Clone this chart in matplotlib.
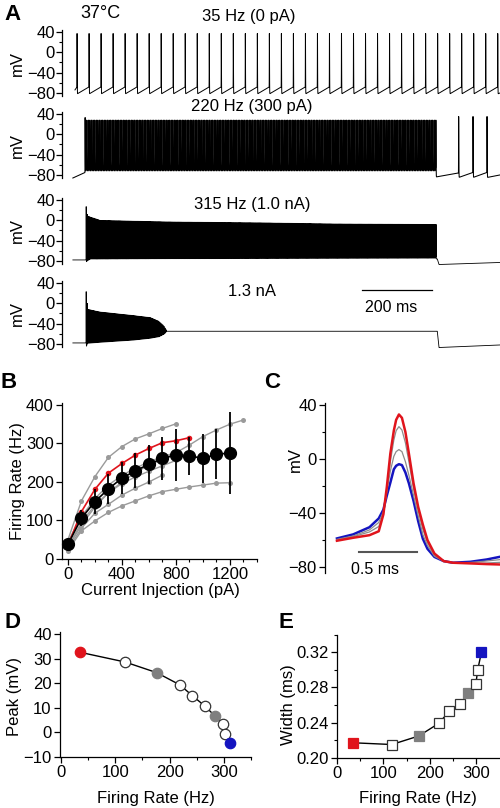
import numpy as np
import matplotlib
matplotlib.use('Agg')
import matplotlib.pyplot as plt
from matplotlib.ticker import MultipleLocator, FormatStrFormatter

plt.rcParams['font.family'] = ['Liberation Sans', 'DejaVu Sans']
plt.rcParams['font.size'] = 12
plt.rcParams['axes.linewidth'] = 0.9
plt.rcParams['xtick.major.width'] = 0.9
plt.rcParams['ytick.major.width'] = 0.9
plt.rcParams['xtick.minor.width'] = 0.8
plt.rcParams['ytick.minor.width'] = 0.8
plt.rcParams['path.simplify'] = False

W, H = 500, 808

# ---------------- panel A: voltage traces (ms, mV)
t_end = 1250.0
dt = 0.05

# trace 1, 0 pA, spontaneous
a1_first, a1_isi, a1_n = 43.0, 34.3, 36
a1_peak, a1_trough, a1_thresh = 37.0, -82.0, -68.0
a1_pre_t, a1_pre_v = [37, 43], [-74, -68]

# trace 2, 300 pA
a2_first, a2_isi, a2_n = 66.0, 4.55, 221
a2_peak_first, a2_peak, a2_trough, a2_thresh = 33.0, 28.0, -77.0, -64.0
a2_after_spk = [1132.0, 1173.0, 1213.0]
a2_after_peak, a2_after_trough, a2_after_thresh = 35.0, -85.0, -75.0
a2_pre_t, a2_pre_v = [31, 66], [-86, -75]
a2_post_t, a2_post_v = [1213, 1250], [-85, -80]

# trace 3, 1.0 nA
a3_first, a3_isi, a3_n = 69.0, 3.17, 316
a3_pk_t = [69, 72, 75, 109, 299, 585, 775, 1061]
a3_pk_v = [27, 12, 8, 0, -3, -5, -7, -8]
a3_tr_t = [69, 80, 300, 1068]
a3_tr_v = [-84, -78, -77, -76]
a3_th_v = [-74, -72, -72, -71]
a3_pre_t, a3_pre_v = [31, 69], [-78, -78]
a3_post_t, a3_post_v = [1068, 1071, 1076, 1250], [-76, -76, -87, -83]

# trace 4, 1.3 nA
a4_first, a4_isi, a4_n = 69.0, 3.0, 77
a4_pk_t = [69, 72, 75, 109, 204, 252, 276, 290, 297]
a4_pk_v = [23, 0, -12, -17, -24, -28, -35, -44, -52]
a4_tr_t = [69, 72, 109, 204, 252, 276, 290, 297]
a4_tr_v = [-86, -80, -78, -73.5, -70, -67, -62, -57]
a4_th_v = [-80, -76, -74, -70, -66, -63, -58, -55]
a4_pre_t, a4_pre_v = [31, 69], [-78, -78]
a4_post_t, a4_post_v = [297, 1071, 1076, 1250], [-55, -55, -87, -82]

trace_titles = ['35 Hz (0 pA)', '220 Hz (300 pA)', '315 Hz (1.0 nA)', '1.3 nA']

# ---------------- panel B: firing rate vs current
cur = [0, 100, 200, 300, 400, 500, 600, 700, 800, 900, 1000, 1100, 1200, 1300]
b_gray = [
    [50, 151, 214, 264, 292, 312, 325, 339, 351],
    [30, 88, 135, 172, 200, 224, 244, 258, 276, 296, 318, 335, 350, 361],
    [22, 73, 99, 121, 138, 151, 164, 175, 181, 187, 192, 197, 198],
    [45, 110, 157, 192, 217, 236, 252, 266, 276],
    [30, 95, 140, 172, 196, 213, 228, 242, 256],
    [25, 80, 119, 142, 166, 184, 200, 218],
]
b_red = [35, 123, 181, 223, 248, 270, 287, 302, 307, 315]
b_mean = [38, 106, 149, 182, 210, 229, 246, 261, 270, 268, 261, 272, 275]
b_sd = [6, 20, 33, 38, 42, 45, 50, 57, 67, 50, 63, 65, 107]

# ---------------- panel C: spike waveforms (ms, mV)
c_t = [0, 0.14, 0.28, 0.36, 0.40, 0.43, 0.46, 0.49, 0.51, 0.534, 0.56, 0.59,
       0.62, 0.66, 0.70, 0.74, 0.78, 0.84, 0.92, 1.0, 1.15, 1.29, 1.405]
c_red = [-60.5, -58.3, -56.4, -53.5, -41, -20.5, 4, 21, 29, 33, 30.5, 20,
         4, -18, -35.5, -48.5, -60, -70, -75.6, -76.8, -77.3, -77.8, -78.1]
c_gray1 = [-60, -57.5, -54, -50, -41, -23, -2, 14, 21, 24, 21.5, 12,
           -2, -22, -38, -52, -62, -71, -75.8, -76.8, -77, -77, -76.5]
c_gray2 = [-59.5, -57, -52.5, -47, -39, -24, -9, 2, 5.5, 7, 5.5, -2,
           -12, -27, -42, -56, -64, -72, -75.7, -76.8, -76.6, -75.5, -74.5]
c_blue = [-58.8, -55.8, -50.5, -44, -37.5, -27, -17.5, -7.6, -5, -3.8, -4.5, -10,
          -18, -31, -46, -59, -66.5, -72.5, -75.6, -76.8, -76.1, -74.4, -72.4]

# ---------------- panels D and E
rate = [34, 118, 176, 219, 242, 265, 283, 299, 303, 311]
peak = [32.6, 28.6, 24.3, 19.3, 14.9, 10.7, 6.8, 3.4, -0.5, -4.5]
width = [0.217, 0.215, 0.2247, 0.239, 0.253, 0.261, 0.274, 0.2836, 0.300, 0.320]
kind = ['red', 'open', 'gray', 'open', 'open', 'open', 'gray', 'open', 'open', 'blue']

RED = '#e0141c'
BLUE = '#1414c0'
GRAY = '#7f7f7f'


def box(l, t, r, b):
    return [l / W, 1 - b / H, (r - l) / W, (b - t) / H]


def ftext(x, y, s, **kw):
    fig.text(x / W, 1 - y / H, s, ha=kw.pop('ha', 'center'), va=kw.pop('va', 'center'), **kw)


T = np.arange(0, t_end + dt, dt)


def build(spk, pk, tr, th, pre_t, pre_v, post_t, post_v, w_up=0.15, w_dn=0.3):
    spk = np.asarray(spk, float)
    pk, tr, th = np.asarray(pk, float), np.asarray(tr, float), np.asarray(th, float)
    v = np.interp(T, pre_t, pre_v)
    v[T < pre_t[0]] = np.nan
    k = np.searchsorted(spk, T, side='right') - 1
    inside = (k >= 0) & (k < len(spk) - 1)
    ki = k[inside]
    d = T[inside] - spk[ki]
    D = spk[ki + 1] - spk[ki]
    v[inside] = tr[ki] + (th[ki] - tr[ki]) * d / D
    after = k == len(spk) - 1
    v[after] = np.interp(T[after], post_t, post_v)
    for s, p in zip(spk, pk):
        m = (T > s - 2.0) & (T < s + 3.0)
        x = T[m] - s
        w = np.where(x < 0, w_up, w_dn)
        g = np.exp(-(x / w) ** 2)
        v[m] = v[m] + (p - v[m]) * g
    return v


def snap(x):
    return np.round(np.asarray(x) / dt) * dt


# trace 1
s1 = snap(a1_first + a1_isi * np.arange(a1_n))
v1 = build(s1, [a1_peak] * a1_n, [a1_trough] * a1_n, [a1_thresh] * a1_n,
           a1_pre_t, a1_pre_v, [s1[-1], t_end], [a1_trough, -80], w_up=0.3, w_dn=0.6)

# trace 2
s2a = snap(a2_first + a2_isi * np.arange(a2_n))
s2 = np.concatenate([s2a, snap(a2_after_spk)])
p2 = [a2_peak_first] + [a2_peak] * (a2_n - 1) + [a2_after_peak] * len(a2_after_spk)
tr2 = [a2_trough] * (a2_n - 1) + [-84] + [a2_after_trough] * len(a2_after_spk)
th2 = [a2_thresh] * (a2_n - 1) + [-76] + [a2_after_thresh] * len(a2_after_spk)
v2 = build(s2, p2, tr2, th2, a2_pre_t, a2_pre_v, a2_post_t, a2_post_v, w_up=0.3, w_dn=0.7)

# trace 3
s3 = snap(a3_first + a3_isi * np.arange(a3_n))
v3 = build(s3, np.interp(s3, a3_pk_t, a3_pk_v), np.interp(s3, a3_tr_t, a3_tr_v),
           np.interp(s3, a3_tr_t, a3_th_v), a3_pre_t, a3_pre_v, a3_post_t, a3_post_v)

# trace 4
s4 = snap(a4_first + a4_isi * np.arange(a4_n))
v4 = build(s4, np.interp(s4, a4_pk_t, a4_pk_v), np.interp(s4, a4_tr_t, a4_tr_v),
           np.interp(s4, a4_tr_t, a4_th_v), a4_pre_t, a4_pre_v, a4_post_t, a4_post_v)

fig = plt.figure(figsize=(5, 8.08), dpi=100)

a_tops = [30, 112, 198, 281]
traces = [v1, v2, v3, v4]
trace_lw = [0.7, 0.75, 0.6, 0.6]
title_y = [16, 107, 204, 292]
for i in range(4):
    ax = fig.add_axes(box(62, a_tops[i], 500, a_tops[i] + 66))
    ax.plot(T, traces[i], color='k', lw=trace_lw[i], clip_on=False)
    ax.set_xlim(0, t_end)
    ax.set_ylim(-86, 44)
    ax.set_yticks([-80, -40, 0, 40])
    ax.yaxis.set_minor_locator(MultipleLocator(20))
    ax.tick_params(axis='y', length=4, pad=1, labelsize=12)
    ax.tick_params(axis='y', which='minor', length=2)
    for sp in ['top', 'right', 'bottom']:
        ax.spines[sp].set_visible(False)
    ax.set_xticks([])
    ax.patch.set_alpha(0)
    ftext(17, a_tops[i] + 33, 'mV', rotation=90, fontsize=12)
    ftext(252 if i else 249, title_y[i], trace_titles[i], fontsize=12)
    if i == 3:
        ax.plot([857, 1057], [26, 26], color='k', lw=0.9)
        ftext(391, 307, '200 ms', fontsize=11.5)

ftext(4, 15, 'A', ha='left', fontsize=16, fontweight='bold')
ftext(100, 14, '37°C', fontsize=13)

# panel B
axB = fig.add_axes(box(62, 403, 257, 559))
for g in b_gray:
    axB.plot(cur[:len(g)], g, '-o', color='#9a9a9a', ms=3.6, lw=1.0, mec='none')
axB.plot(cur[:len(b_red)], b_red, '-o', color=RED, ms=4.0, lw=1.2, mec='none')
axB.errorbar(cur[:len(b_mean)], b_mean, yerr=b_sd, fmt='-o', color='k', ms=8.5,
             lw=1.2, elinewidth=1.3, capsize=0, clip_on=False)
axB.set_xlim(-44, 1400)
axB.set_ylim(0, 405)
axB.set_xticks([0, 400, 800, 1200])
axB.xaxis.set_minor_locator(MultipleLocator(100))
axB.set_yticks([0, 100, 200, 300, 400])
axB.tick_params(length=4, pad=2, labelsize=12)
axB.tick_params(which='minor', length=2)
for sp in ['top', 'right']:
    axB.spines[sp].set_visible(False)
ftext(18, 481, 'Firing Rate (Hz)', rotation=90, fontsize=12)
ftext(160, 591, 'Current Injection (pA)', fontsize=12)
ftext(1, 383, 'B', ha='left', fontsize=16, fontweight='bold')

# panel C
axC = fig.add_axes(box(325, 403, 500, 573))
axC.plot(c_t, c_blue, color=BLUE, lw=1.8)
axC.plot(c_t, c_gray2, color='#8c8c8c', lw=0.9)
axC.plot(c_t, c_gray1, color='#8c8c8c', lw=0.9)
axC.plot(c_t, c_red, color=RED, lw=1.8)
axC.plot([0.19, 0.69], [-68.9, -68.9], color='#555555', lw=1.5)
axC.set_xlim(-0.103, 1.405)
axC.set_ylim(-84.4, 41.5)
axC.set_yticks([-80, -40, 0, 40])
axC.yaxis.set_minor_locator(MultipleLocator(20))
axC.set_xticks([])
axC.tick_params(axis='y', length=4, pad=2, labelsize=12)
axC.tick_params(axis='y', which='minor', length=2)
for sp in ['top', 'right', 'bottom']:
    axC.spines[sp].set_visible(False)
axC.patch.set_alpha(0)
ftext(295, 460, 'mV', rotation=90, fontsize=12)
ftext(375, 570, '0.5 ms', fontsize=11.5)
ftext(264, 383, 'C', ha='left', fontsize=16, fontweight='bold')


def style_marker(k):
    if k == 'red':
        return dict(mfc=RED, mec=RED)
    if k == 'blue':
        return dict(mfc=BLUE, mec=BLUE)
    if k == 'gray':
        return dict(mfc=GRAY, mec=GRAY)
    return dict(mfc='white', mec='#333333')


# panel D
axD = fig.add_axes(box(60, 631.5, 251, 757))
axD.plot(rate, peak, color='k', lw=1.0, zorder=1)
for x, y, k in zip(rate, peak, kind):
    axD.plot([x], [y], 'o', ms=7.5, mew=0.9, zorder=2, clip_on=False, **style_marker(k))
axD.set_xlim(-2, 350)
axD.set_ylim(-10, 41)
axD.set_xticks([0, 100, 200, 300])
axD.xaxis.set_minor_locator(MultipleLocator(50))
axD.set_yticks([-10, 0, 10, 20, 30, 40])
axD.tick_params(length=4, pad=2, labelsize=12)
axD.tick_params(which='minor', length=2)
for sp in ['top', 'right']:
    axD.spines[sp].set_visible(False)
ftext(15, 696, 'Peak (mV)', rotation=90, fontsize=12)
ftext(156, 798, 'Firing Rate (Hz)', fontsize=12)
ftext(5, 622, 'D', ha='left', fontsize=16, fontweight='bold')

# panel E
axE = fig.add_axes(box(337, 634.7, 498.6, 757.7))
axE.plot(rate, width, color='k', lw=1.0, zorder=1)
for x, y, k in zip(rate, width, kind):
    axE.plot([x], [y], 's', ms=7.5, mew=0.9, zorder=2, clip_on=False, **style_marker(k))
axE.set_xlim(0, 348)
axE.set_ylim(0.20, 0.34)
axE.set_xticks([0, 100, 200, 300])
axE.xaxis.set_minor_locator(MultipleLocator(50))
axE.set_yticks([0.20, 0.24, 0.28, 0.32])
axE.yaxis.set_minor_locator(MultipleLocator(0.02))
axE.yaxis.set_major_formatter(FormatStrFormatter('%.2f'))
axE.tick_params(length=4, pad=2, labelsize=12)
axE.tick_params(which='minor', length=2)
for sp in ['top', 'right']:
    axE.spines[sp].set_visible(False)
ftext(288, 705, 'Width (ms)', rotation=90, fontsize=12)
ftext(418, 798, 'Firing Rate (Hz)', fontsize=12)
ftext(278, 622, 'E', ha='left', fontsize=16, fontweight='bold')

fig.savefig('out.png', dpi=100)
